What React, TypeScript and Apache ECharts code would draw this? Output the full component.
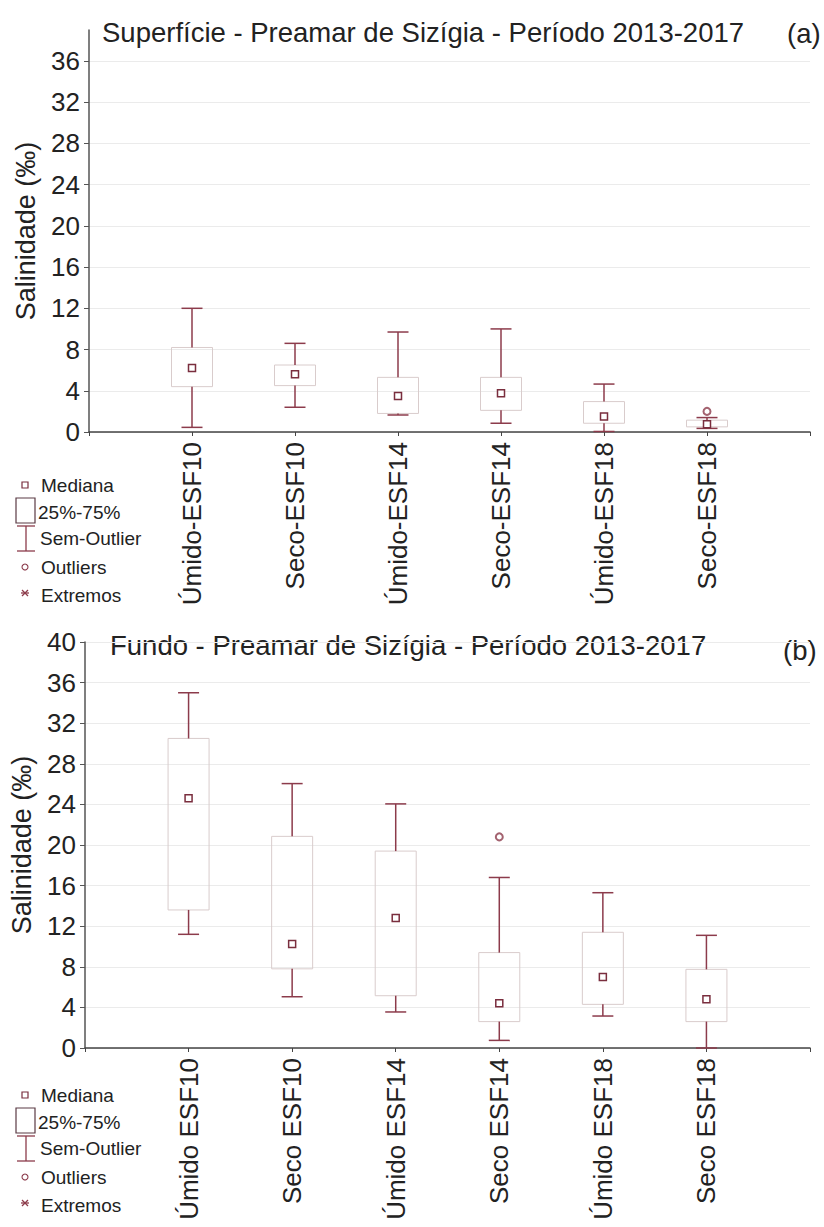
import { useEffect, useRef } from "react";
import * as echarts from "echarts";

// categorias
const topCats = ["Úmido-ESF10", "Seco-ESF10", "Úmido-ESF14", "Seco-ESF14", "Úmido-ESF18", "Seco-ESF18"];
const botCats = ["Úmido ESF10", "Seco ESF10", "Úmido ESF14", "Seco ESF14", "Úmido ESF18", "Seco ESF18"];

// (a) superfície
const topMin = [0.45, 2.4, 1.65, 0.85, 0.05, 0.35];
const topQ1 = [4.4, 4.5, 1.8, 2.1, 0.85, 0.5];
const topMed = [6.2, 5.6, 3.5, 3.75, 1.5, 0.75];
const topQ3 = [8.2, 6.5, 5.3, 5.3, 2.95, 1.15];
const topMax = [12, 8.6, 9.7, 10.0, 4.65, 1.4];
const topOutliers = [[5, 2.0]];

// (b) fundo
const botMin = [11.2, 5.05, 3.55, 0.75, 3.15, 0];
const botQ1 = [13.6, 7.8, 5.15, 2.6, 4.3, 2.6];
const botMed = [24.6, 10.25, 12.8, 4.4, 7.0, 4.8];
const botQ3 = [30.5, 20.85, 19.4, 9.4, 11.4, 7.75];
const botMax = [35, 26.05, 24.05, 16.8, 15.3, 11.1];
const botOutliers = [[3, 20.8]];

const yTicks = [0, 4, 8, 12, 16, 20, 24, 28, 32, 36, 40];

const FONT = "'Liberation Sans', Arial, sans-serif";
const WHISKER = "#8c3b4b";
const BOX = "#d9cccc";
const MEDIAN = "#7a2e3e";
const AXIS = "#444";
const TXT = "#222";

const renderBox = (params: any, api: any) => {
  const x = api.value(0);
  const lo = api.coord([x, api.value(1)]);
  const q1 = api.coord([x, api.value(2)]);
  const md = api.coord([x, api.value(3)]);
  const q3 = api.coord([x, api.value(4)]);
  const hi = api.coord([x, api.value(5)]);
  const cx = lo[0];
  const bw = 41, cw = 21, ms = 7;
  const ws = { stroke: WHISKER, lineWidth: 1.5 };
  return {
    type: "group",
    children: [
      { type: "rect", shape: { x: cx - bw / 2, y: q3[1], width: bw, height: q1[1] - q3[1] }, style: { fill: "none", stroke: BOX, lineWidth: 1 } },
      { type: "line", shape: { x1: cx, y1: hi[1], x2: cx, y2: q3[1] }, style: ws },
      { type: "line", shape: { x1: cx, y1: q1[1], x2: cx, y2: lo[1] }, style: ws },
      { type: "line", shape: { x1: cx - cw / 2, y1: hi[1], x2: cx + cw / 2, y2: hi[1] }, style: ws },
      { type: "line", shape: { x1: cx - cw / 2, y1: lo[1], x2: cx + cw / 2, y2: lo[1] }, style: ws },
      { type: "rect", shape: { x: cx - ms / 2, y: md[1] - ms / 2, width: ms, height: ms }, style: { fill: "#fff", stroke: MEDIAN, lineWidth: 1.5 } },
    ],
  };
};

const legend = (y0: number) => {
  const t = (text: string, x: number, y: number) => ({
    type: "text",
    style: { text, x, y, font: `19px ${FONT}`, fill: TXT, align: "left", verticalAlign: "middle", textAlign: "left", textVerticalAlign: "middle" },
  });
  const ls = { stroke: WHISKER, lineWidth: 1.3 };
  return [
    { type: "rect", shape: { x: 22, y: y0 - 3, width: 6, height: 6 }, style: { fill: "#fff", stroke: MEDIAN, lineWidth: 1.2 } },
    t("Mediana", 41, y0),
    { type: "rect", shape: { x: 16, y: y0 + 13, width: 19, height: 25 }, style: { fill: "none", stroke: "#5a3a44", lineWidth: 1.2 } },
    t("25%-75%", 38, y0 + 27),
    { type: "line", shape: { x1: 26, y1: y0 + 41, x2: 26, y2: y0 + 66 }, style: ls },
    { type: "line", shape: { x1: 17, y1: y0 + 41, x2: 35, y2: y0 + 41 }, style: ls },
    { type: "line", shape: { x1: 17, y1: y0 + 66, x2: 35, y2: y0 + 66 }, style: ls },
    t("Sem-Outlier", 40, y0 + 53),
    { type: "circle", shape: { cx: 25, cy: y0 + 82, r: 3 }, style: { fill: "none", stroke: WHISKER, lineWidth: 1.1 } },
    t("Outliers", 41, y0 + 82),
    { type: "line", shape: { x1: 21, y1: y0 + 108, x2: 29, y2: y0 + 108 }, style: ls },
    { type: "line", shape: { x1: 22, y1: y0 + 105, x2: 28, y2: y0 + 111 }, style: ls },
    { type: "line", shape: { x1: 22, y1: y0 + 111, x2: 28, y2: y0 + 105 }, style: ls },
    t("Extremos", 41, y0 + 110),
  ];
};

const heading = (text: string, x: number, y: number) => ({
  type: "text",
  style: { text, x, y, font: `27.5px ${FONT}`, fill: TXT, align: "left", verticalAlign: "middle", textAlign: "left", textVerticalAlign: "middle" },
});

const App = () => {
  const chartRef = useRef<HTMLDivElement>(null);

  useEffect(() => {
    document.body.style.margin = "0";
    if (!chartRef.current) return;
    const chart = echarts.init(chartRef.current, null, { renderer: "svg" });

    const xAxisOf = (gridIndex: number, cats: string[]) => ({
      type: "value",
      gridIndex,
      min: 0,
      max: 7,
      interval: 1,
      axisLine: { show: true, lineStyle: { color: AXIS, width: 1.5 } },
      axisTick: { show: true, length: 4, lineStyle: { color: AXIS } },
      splitLine: { show: false },
      axisLabel: {
        rotate: 90,
        margin: 10,
        fontSize: 26,
        fontFamily: FONT,
        color: TXT,
        formatter: (v: number) => cats[Math.round(v) - 1] ?? "",
      },
    });

    const yAxisOf = (gridIndex: number, max: number) => {
      const ticks = yTicks.filter((v) => v <= max);
      const n = ticks.length;
      const colors = Array.from({ length: n + 1 }, (_, i) => (i < n ? "#ebebeb" : "transparent"));
      return {
        type: "value",
        gridIndex,
        min: 0,
        max,
        interval: 4,
        name: "Salinidade (‰)",
        nameLocation: "middle",
        nameGap: 50,
        nameTextStyle: { fontSize: 27, fontFamily: FONT, color: TXT },
        axisLine: { show: true, lineStyle: { color: "#555", width: 1.5 } },
        axisTick: { show: true, length: 5, customValues: ticks, lineStyle: { color: "#555" } },
        splitLine: { show: true, lineStyle: { color: colors, width: 1 } },
        axisLabel: {
          margin: 9,
          fontSize: 26,
          fontFamily: FONT,
          color: TXT,
          formatter: (v: number) => (v % 4 === 0 ? String(v) : ""),
        },
      };
    };

    const boxData = (mins: number[], q1: number[], med: number[], q3: number[], max: number[]) =>
      mins.map((m, i) => [i + 1, m, q1[i], med[i], q3[i], max[i]]);

    chart.setOption({
      animation: false,
      grid: [
        { left: 89, right: 14, top: 30, height: 402 },
        { left: 85, right: 14, top: 642, height: 406 },
      ],
      xAxis: [xAxisOf(0, topCats), xAxisOf(1, botCats)],
      yAxis: [yAxisOf(0, 39), yAxisOf(1, 40)],
      series: [
        {
          type: "custom",
          xAxisIndex: 0,
          yAxisIndex: 0,
          renderItem: renderBox,
          encode: { x: 0, y: [1, 2, 3, 4, 5] },
          data: boxData(topMin, topQ1, topMed, topQ3, topMax),
        },
        {
          type: "scatter",
          xAxisIndex: 0,
          yAxisIndex: 0,
          symbol: "emptyCircle",
          symbolSize: 7,
          itemStyle: { color: WHISKER, borderWidth: 1.2 },
          data: topOutliers.map(([i, v]) => [i + 1, v]),
        },
        {
          type: "custom",
          xAxisIndex: 1,
          yAxisIndex: 1,
          renderItem: renderBox,
          encode: { x: 0, y: [1, 2, 3, 4, 5] },
          data: boxData(botMin, botQ1, botMed, botQ3, botMax),
        },
        {
          type: "scatter",
          xAxisIndex: 1,
          yAxisIndex: 1,
          symbol: "emptyCircle",
          symbolSize: 7,
          itemStyle: { color: WHISKER, borderWidth: 1.2 },
          data: botOutliers.map(([i, v]) => [i + 1, v]),
        },
      ],
      graphic: [
        heading("Superfície - Preamar de Sizígia - Período 2013-2017", 102, 32),
        heading("(a)", 787, 33),
        heading("Fundo - Preamar de Sizígia - Período 2013-2017", 110, 645),
        heading("(b)", 783, 650),
        ...legend(485),
        ...legend(1095),
      ],
    });

    return () => {
      chart.dispose();
    };
  }, []);

  return <div ref={chartRef} style={{ width: "824px", height: "1227px" }} />;
};

export default App;
